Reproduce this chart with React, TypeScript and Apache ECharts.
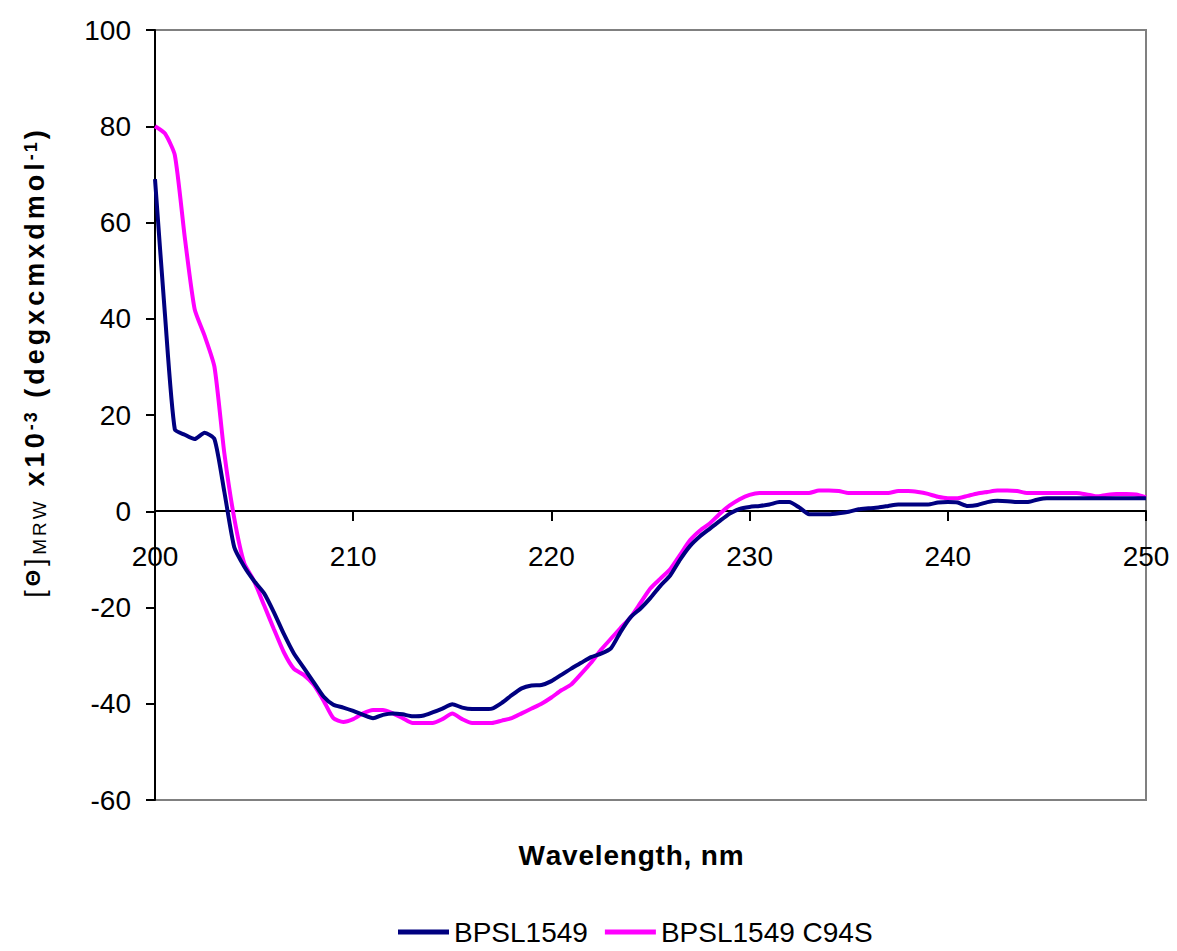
import React, { useEffect, useRef } from "react";
import * as echarts from "echarts";

const wavelengths: number[] = [];
for (let i = 0; i <= 100; i++) wavelengths.push(200 + i * 0.5);

const bpsl1549: number[] = [
  69, 41, 17, 15.9, 15, 16.3, 15, 4, -7.5, -11.5,
  -14.5, -17, -21, -25.5, -29.5, -32.5, -35.5, -38.5, -40.2, -40.8,
  -41.5, -42.3, -43, -42.3, -42, -42.2, -42.6, -42.5, -41.8, -41,
  -40.1, -40.8, -41.1, -41.1, -41, -39.8, -38.2, -36.8, -36.2, -36.1,
  -35.3, -34, -32.7, -31.5, -30.3, -29.6, -28.5, -25, -22, -20.2,
  -18, -15.5, -13.3, -10, -7.2, -5.2, -3.6, -2, -0.5, 0.5,
  0.9, 1.1, 1.4, 1.9, 1.9, 0.8, -0.6, -0.6, -0.6, -0.4,
  -0.1, 0.4, 0.6, 0.8, 1.1, 1.4, 1.4, 1.4, 1.4, 1.8,
  1.9, 1.8, 1.1, 1.3, 1.9, 2.2, 2.1, 1.9, 1.9, 2.4,
  2.7, 2.7, 2.7, 2.7, 2.7, 2.7, 2.7, 2.7, 2.7, 2.7,
  2.7,
];

const bpsl1549C94S: number[] = [
  80, 78.5, 74, 57, 42, 36.5, 30, 12, -1.5, -10.8,
  -14.5, -19.5, -24.5, -29.3, -32.7, -34, -36, -39.3, -43, -43.8,
  -43.2, -42, -41.3, -41.3, -42, -43, -44, -44, -44, -43.2,
  -42, -43.2, -44, -44, -44, -43.5, -43, -42, -41, -40,
  -38.7, -37.2, -36, -33.8, -31.5, -28.8, -26.5, -24.2, -22, -19,
  -16, -14, -12, -9, -6, -4, -2.5, -0.5, 1.2, 2.5,
  3.4, 3.8, 3.8, 3.8, 3.8, 3.8, 3.8, 4.3, 4.3, 4.2,
  3.8, 3.8, 3.8, 3.8, 3.8, 4.2, 4.2, 4.0, 3.6, 3.0,
  2.7, 2.7, 3.2, 3.7, 4.0, 4.3, 4.3, 4.2, 3.8, 3.8,
  3.8, 3.8, 3.8, 3.8, 3.5, 3.1, 3.4, 3.6, 3.6, 3.5,
  2.9,
];

const seriesNames = ["BPSL1549", "BPSL1549 C94S"];
const seriesColors = ["#000080", "#FF00FF"];
const xTitle = "Wavelength, nm";

const FONT = "'Liberation Sans', Arial, sans-serif";

// build spaced rich-text tokens, one per character
const sp = (style: string, s: string) =>
  s
    .split("")
    .map((c) => `{${style}|${c}}`)
    .join("");

const yTitle =
  sp("n", "[") +
  sp("t", "Θ") +
  sp("n", "]") +
  sp("sub", "MRW") +
  sp("b", " x10") +
  sp("sup", "-3") +
  sp("b", " (degxcmxdmol") +
  sp("sup", "-1") +
  sp("b", ")");

export default function App() {
  const ref = useRef<HTMLDivElement>(null);
  useEffect(() => {
    if (!ref.current) return;
    const chart = echarts.init(ref.current, null, { renderer: "svg" });
    const pair = (ys: number[]) => wavelengths.map((w, i) => [w, ys[i]]);
    const pad = [0, 2, 0, 2];
    chart.setOption({
      animation: false,
      backgroundColor: "#ffffff",
      textStyle: { fontFamily: FONT },
      grid: {
        left: 155,
        right: 31,
        top: 30,
        bottom: 151,
        show: true,
        borderColor: "#808080",
        borderWidth: 2,
        containLabel: false,
        outerBoundsMode: "none",
      },
      legend: {
        left: 393,
        top: 913,
        icon: "rect",
        itemWidth: 51,
        itemHeight: 5,
        itemGap: 17,
        textStyle: { fontFamily: FONT, fontSize: 28, color: "#000" },
        data: seriesNames,
      },
      graphic: [
        {
          type: "text",
          x: 35,
          y: 364,
          rotation: Math.PI / 2,
          silent: true,
          style: {
            text: yTitle,
            align: "center",
            verticalAlign: "middle",
            textAlign: "center",
            textVerticalAlign: "middle",
            fill: "#000",
            rich: {
              n: { fontFamily: FONT, fontSize: 27, color: "#000", padding: pad },
              t: { fontFamily: FONT, fontSize: 21, fontWeight: "bold", color: "#000", verticalAlign: "top", padding: pad },
              sub: { fontFamily: FONT, fontSize: 19, color: "#000", verticalAlign: "bottom", padding: [0, 1.5, 0, 1.5] },
              b: { fontFamily: FONT, fontSize: 27, fontWeight: "bold", color: "#000", padding: pad },
              sup: { fontFamily: FONT, fontSize: 18, fontWeight: "bold", color: "#000", verticalAlign: "top", padding: [0, 1, 0, 1] },
            },
          },
        },
        {
          type: "text",
          x: 631,
          y: 855,
          silent: true,
          style: {
            text: sp("w", xTitle),
            align: "center",
            verticalAlign: "middle",
            textAlign: "center",
            textVerticalAlign: "middle",
            fill: "#000",
            rich: {
              w: { fontFamily: FONT, fontSize: 28, fontWeight: "bold", color: "#000", padding: [0, 0.4, 0, 0.4] },
            },
          },
        },
      ],
      xAxis: {
        type: "value",
        min: 200,
        max: 250,
        interval: 10,
        offset: -289,
        axisLine: { show: true, onZero: false, lineStyle: { color: "#000", width: 2 } },
        axisTick: { show: true, length: 10, inside: false, lineStyle: { color: "#000", width: 2 } },
        axisLabel: { margin: 31, fontSize: 28, color: "#000", fontFamily: FONT },
        splitLine: { show: false },
      },
      yAxis: {
        type: "value",
        min: -60,
        max: 100,
        interval: 20,
        axisLine: { show: true, onZero: false, lineStyle: { color: "#000", width: 2 } },
        axisTick: { show: true, length: 9, inside: false, lineStyle: { color: "#000", width: 2 } },
        axisLabel: { margin: 24, fontSize: 28, color: "#000", fontFamily: FONT },
        splitLine: { show: false },
      },
      series: [
        {
          name: seriesNames[0],
          type: "line",
          data: pair(bpsl1549),
          symbol: "none",
          smooth: 0.2,
          lineStyle: { color: seriesColors[0], width: 4 },
          itemStyle: { color: seriesColors[0] },
          z: 3,
        },
        {
          name: seriesNames[1],
          type: "line",
          data: pair(bpsl1549C94S),
          symbol: "none",
          smooth: 0.2,
          lineStyle: { color: seriesColors[1], width: 4 },
          itemStyle: { color: seriesColors[1] },
          z: 2,
        },
      ],
    });
    return () => chart.dispose();
  }, []);
  return <div ref={ref} style={{ width: 1177, height: 951, margin: -8 }} />;
}
